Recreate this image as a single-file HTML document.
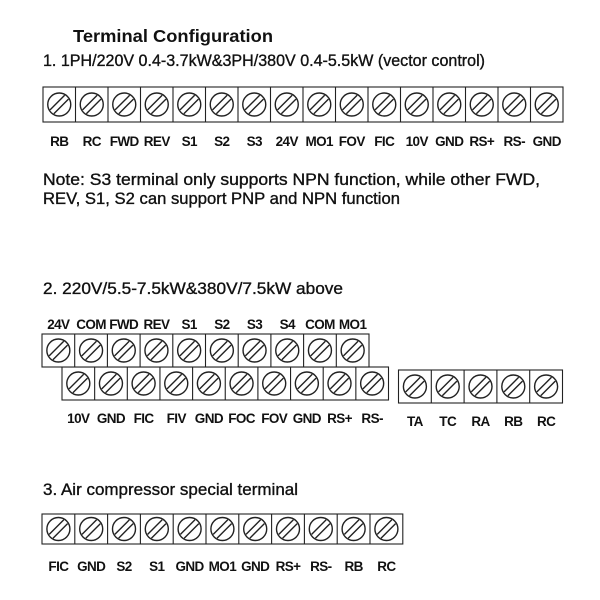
<!DOCTYPE html>
<html><head><meta charset="utf-8"><style>
html,body{margin:0;padding:0;background:#fff;}
svg{display:block;}
text{font-family:"Liberation Sans",Arial,sans-serif;fill:#111;}
.l{font-size:13.5px;font-weight:bold;text-anchor:middle;letter-spacing:-0.6px;}
.h{font-size:16.5px;stroke:#111;stroke-width:0.35px;}
</style></head><body>
<svg width="600" height="600" viewBox="0 0 600 600" xmlns="http://www.w3.org/2000/svg">
<defs>
<g id="s" fill="none" stroke="#222" stroke-width="1.4">
<circle r="11.5"/>
<line x1="-5.4" y1="9.2" x2="9.2" y2="-5.4"/>
<line x1="-9.2" y1="5.4" x2="5.4" y2="-9.2"/>
</g>
</defs>
<text x="73" y="42" font-size="17.5" font-weight="bold" textLength="200" lengthAdjust="spacingAndGlyphs">Terminal Configuration</text>
<text class="h" x="43" y="66" textLength="442" lengthAdjust="spacingAndGlyphs">1. 1PH/220V 0.4-3.7kW&amp;3PH/380V 0.4-5.5kW (vector control)</text>

<g fill="none" stroke="#222" stroke-width="1.1">
<rect x="43" y="87" width="520" height="35"/>
<path d="M75.5 87V122M108 87V122M140.5 87V122M173 87V122M205.5 87V122M238 87V122M270.5 87V122M303 87V122M335.5 87V122M368 87V122M400.5 87V122M433 87V122M465.5 87V122M498 87V122M530.5 87V122"/>
</g>
<g transform="translate(0,104.5)">
<use href="#s" x="59.25"/><use href="#s" x="91.75"/><use href="#s" x="124.25"/><use href="#s" x="156.75"/><use href="#s" x="189.25"/><use href="#s" x="221.75"/><use href="#s" x="254.25"/><use href="#s" x="286.75"/><use href="#s" x="319.25"/><use href="#s" x="351.75"/><use href="#s" x="384.25"/><use href="#s" x="416.75"/><use href="#s" x="449.25"/><use href="#s" x="481.75"/><use href="#s" x="514.25"/><use href="#s" x="546.75"/>
</g>
<g>
<text class="l" x="59.25" y="146">RB</text><text class="l" x="91.75" y="146">RC</text><text class="l" x="124.25" y="146">FWD</text><text class="l" x="156.75" y="146">REV</text><text class="l" x="189.25" y="146">S1</text><text class="l" x="221.75" y="146">S2</text><text class="l" x="254.25" y="146">S3</text><text class="l" x="286.75" y="146">24V</text><text class="l" x="319.25" y="146">MO1</text><text class="l" x="351.75" y="146">FOV</text><text class="l" x="384.25" y="146">FIC</text><text class="l" x="416.75" y="146">10V</text><text class="l" x="449.25" y="146">GND</text><text class="l" x="481.75" y="146">RS+</text><text class="l" x="514.25" y="146">RS-</text><text class="l" x="546.75" y="146">GND</text>
</g>

<text class="h" x="43" y="185" textLength="497" lengthAdjust="spacingAndGlyphs">Note: S3 terminal only supports NPN function, while other FWD,</text>
<text class="h" x="43" y="204" textLength="357" lengthAdjust="spacingAndGlyphs">REV, S1, S2 can support PNP and NPN function</text>

<text class="h" x="43" y="294" textLength="300" lengthAdjust="spacingAndGlyphs">2. 220V/5.5-7.5kW&amp;380V/7.5kW above</text>

<g>
<text class="l" x="58.35" y="329">24V</text><text class="l" x="91.05" y="329">COM</text><text class="l" x="123.75" y="329">FWD</text><text class="l" x="156.45" y="329">REV</text><text class="l" x="189.15" y="329">S1</text><text class="l" x="221.85" y="329">S2</text><text class="l" x="254.55" y="329">S3</text><text class="l" x="287.25" y="329">S4</text><text class="l" x="319.95" y="329">COM</text><text class="l" x="352.65" y="329">MO1</text>
</g>
<g fill="#fff" stroke="#222" stroke-width="1.1">
<rect x="62" y="367" width="326.5" height="33"/>
<rect x="42" y="334" width="327" height="33"/>
<path d="M74.7 334V367M107.4 334V367M140.1 334V367M172.8 334V367M205.5 334V367M238.2 334V367M270.9 334V367M303.6 334V367M336.3 334V367"/>
<path d="M94.65 367V400M127.3 367V400M159.95 367V400M192.6 367V400M225.25 367V400M257.9 367V400M290.55 367V400M323.2 367V400M355.85 367V400"/>
<rect x="398.5" y="370" width="164" height="33"/>
<path d="M431.3 370V403M464.1 370V403M496.9 370V403M529.7 370V403"/>
</g>
<g transform="translate(0,350.5)">
<use href="#s" x="58.35"/><use href="#s" x="91.05"/><use href="#s" x="123.75"/><use href="#s" x="156.45"/><use href="#s" x="189.15"/><use href="#s" x="221.85"/><use href="#s" x="254.55"/><use href="#s" x="287.25"/><use href="#s" x="319.95"/><use href="#s" x="352.65"/>
</g>
<g transform="translate(0,383.5)">
<use href="#s" x="78.3"/><use href="#s" x="110.95"/><use href="#s" x="143.6"/><use href="#s" x="176.25"/><use href="#s" x="208.9"/><use href="#s" x="241.55"/><use href="#s" x="274.2"/><use href="#s" x="306.85"/><use href="#s" x="339.5"/><use href="#s" x="372.15"/>
</g>
<g transform="translate(0,386.5)">
<use href="#s" x="414.9"/><use href="#s" x="447.7"/><use href="#s" x="480.5"/><use href="#s" x="513.3"/><use href="#s" x="546.1"/>
</g>
<g>
<text class="l" x="78.3" y="423">10V</text><text class="l" x="110.95" y="423">GND</text><text class="l" x="143.6" y="423">FIC</text><text class="l" x="176.25" y="423">FIV</text><text class="l" x="208.9" y="423">GND</text><text class="l" x="241.55" y="423">FOC</text><text class="l" x="274.2" y="423">FOV</text><text class="l" x="306.85" y="423">GND</text><text class="l" x="339.5" y="423">RS+</text><text class="l" x="372.15" y="423">RS-</text>
<text class="l" x="414.9" y="426">TA</text><text class="l" x="447.7" y="426">TC</text><text class="l" x="480.5" y="426">RA</text><text class="l" x="513.3" y="426">RB</text><text class="l" x="546.1" y="426">RC</text>
</g>

<text class="h" x="43" y="495" textLength="255" lengthAdjust="spacingAndGlyphs">3. Air compressor special terminal</text>
<g fill="none" stroke="#222" stroke-width="1.1">
<rect x="42" y="514" width="360.8" height="30"/>
<path d="M74.8 514V544M107.6 514V544M140.4 514V544M173.2 514V544M206 514V544M238.8 514V544M271.6 514V544M304.4 514V544M337.2 514V544M370 514V544"/>
</g>
<g transform="translate(0,529)">
<use href="#s" x="58.4"/><use href="#s" x="91.2"/><use href="#s" x="124"/><use href="#s" x="156.8"/><use href="#s" x="189.6"/><use href="#s" x="222.4"/><use href="#s" x="255.2"/><use href="#s" x="288"/><use href="#s" x="320.8"/><use href="#s" x="353.6"/><use href="#s" x="386.4"/>
</g>
<g>
<text class="l" x="58.4" y="571">FIC</text><text class="l" x="91.2" y="571">GND</text><text class="l" x="124" y="571">S2</text><text class="l" x="156.8" y="571">S1</text><text class="l" x="189.6" y="571">GND</text><text class="l" x="222.4" y="571">MO1</text><text class="l" x="255.2" y="571">GND</text><text class="l" x="288" y="571">RS+</text><text class="l" x="320.8" y="571">RS-</text><text class="l" x="353.6" y="571">RB</text><text class="l" x="386.4" y="571">RC</text>
</g>
</svg>
</body></html>
